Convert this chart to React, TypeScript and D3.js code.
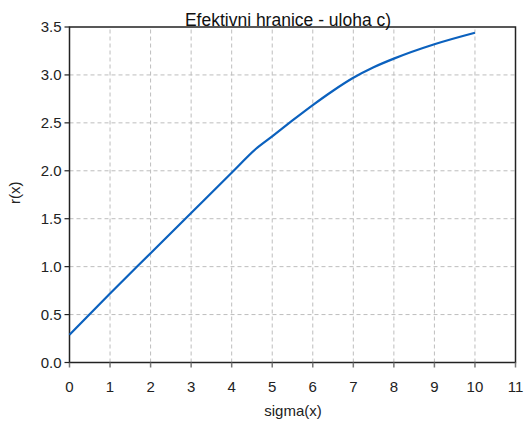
import React, { useEffect, useRef } from 'react';
import * as d3 from 'd3';

const sigmaValues = [0, 1, 2, 3, 4, 4.6, 5, 5.5, 6, 6.5, 7, 7.5, 8, 9, 10];
const returnValues = [0.29, 0.72, 1.14, 1.56, 1.98, 2.23, 2.36, 2.525, 2.685, 2.835, 2.97, 3.08, 3.17, 3.32, 3.44];
const xTicks = [0, 1, 2, 3, 4, 5, 6, 7, 8, 9, 10, 11];
const yTicks = [0, 0.5, 1, 1.5, 2, 2.5, 3, 3.5];

const W = 526, H = 421;
const margin = { top: 27, right: 10, bottom: 58, left: 69 };

export default function App() {
  const ref = useRef<SVGSVGElement>(null);

  useEffect(() => {
    const svg = d3.select(ref.current);
    svg.selectAll('*').remove();
    const font = 'Liberation Sans, Arial, sans-serif';

    const x = d3.scaleLinear().domain([0, 11]).range([margin.left + 0.5, W - margin.right - 0.5]);
    const y = d3.scaleLinear().domain([0, 3.5]).range([H - margin.bottom - 0.5, margin.top]);

    const g = svg.append('g');

    // grid
    g.selectAll('.gx').data(xTicks.slice(1, -1)).enter().append('line')
      .attr('x1', d => x(d)).attr('x2', d => x(d))
      .attr('y1', y(0)).attr('y2', y(3.5))
      .attr('stroke', '#bdbdbd').attr('stroke-dasharray', '4,3');
    g.selectAll('.gy').data(yTicks.slice(1, -1)).enter().append('line')
      .attr('x1', x(0)).attr('x2', x(11))
      .attr('y1', d => y(d)).attr('y2', d => y(d))
      .attr('stroke', '#bdbdbd').attr('stroke-dasharray', '4,3');

    // frame
    g.append('rect')
      .attr('x', x(0)).attr('y', y(3.5))
      .attr('width', x(11) - x(0)).attr('height', y(0) - y(3.5))
      .attr('fill', 'none').attr('stroke', '#222').attr('stroke-width', 1.5);

    // x ticks
    g.selectAll('.tx').data(xTicks).enter().append('line')
      .attr('x1', d => x(d)).attr('x2', d => x(d))
      .attr('y1', y(0)).attr('y2', y(0) + 5)
      .attr('stroke', '#777').attr('stroke-width', 1.5);
    g.selectAll('.lx').data(xTicks).enter().append('text')
      .attr('x', d => x(d)).attr('y', y(0) + 29)
      .attr('text-anchor', 'middle')
      .style('font-family', font).style('font-size', '15px').attr('fill', '#222')
      .text(d => d);

    // y ticks
    g.selectAll('.ty').data(yTicks).enter().append('line')
      .attr('x1', x(0) - 5).attr('x2', x(0))
      .attr('y1', d => y(d)).attr('y2', d => y(d))
      .attr('stroke', '#222').attr('stroke-width', 1.2);
    g.selectAll('.ly').data(yTicks).enter().append('text')
      .attr('x', x(0) - 8).attr('y', d => y(d) + 5)
      .attr('text-anchor', 'end')
      .style('font-family', font).style('font-size', '15px').attr('fill', '#222')
      .text(d => d3.format('.1f')(d));

    // curve
    const line = d3.line<number>()
      .x((d, i) => x(sigmaValues[i]))
      .y(d => y(d))
      .curve(d3.curveMonotoneX);
    g.append('path')
      .datum(returnValues)
      .attr('d', line)
      .attr('fill', 'none')
      .attr('stroke', '#0b61be')
      .attr('stroke-width', 2.2);

    // labels
    svg.append('text')
      .attr('x', 288).attr('y', 26)
      .attr('text-anchor', 'middle')
      .style('font-family', font).style('font-size', '17.5px').attr('fill', '#111')
      .text('Efektivni hranice - uloha c)');
    svg.append('text')
      .attr('x', 293).attr('y', 416)
      .attr('text-anchor', 'middle')
      .style('font-family', font).style('font-size', '15px').attr('fill', '#222')
      .text('sigma(x)');
    svg.append('text')
      .attr('transform', `translate(20,${(y(0) + y(3.5)) / 2 - 2}) rotate(-90)`)
      .attr('text-anchor', 'middle')
      .style('font-family', font).style('font-size', '15px').attr('fill', '#222')
      .text('r(x)');
  }, []);

  return (
    <svg ref={ref} width={W} height={H}
      style={{ position: 'absolute', left: 0, top: 0, background: '#fff' }} />
  );
}
